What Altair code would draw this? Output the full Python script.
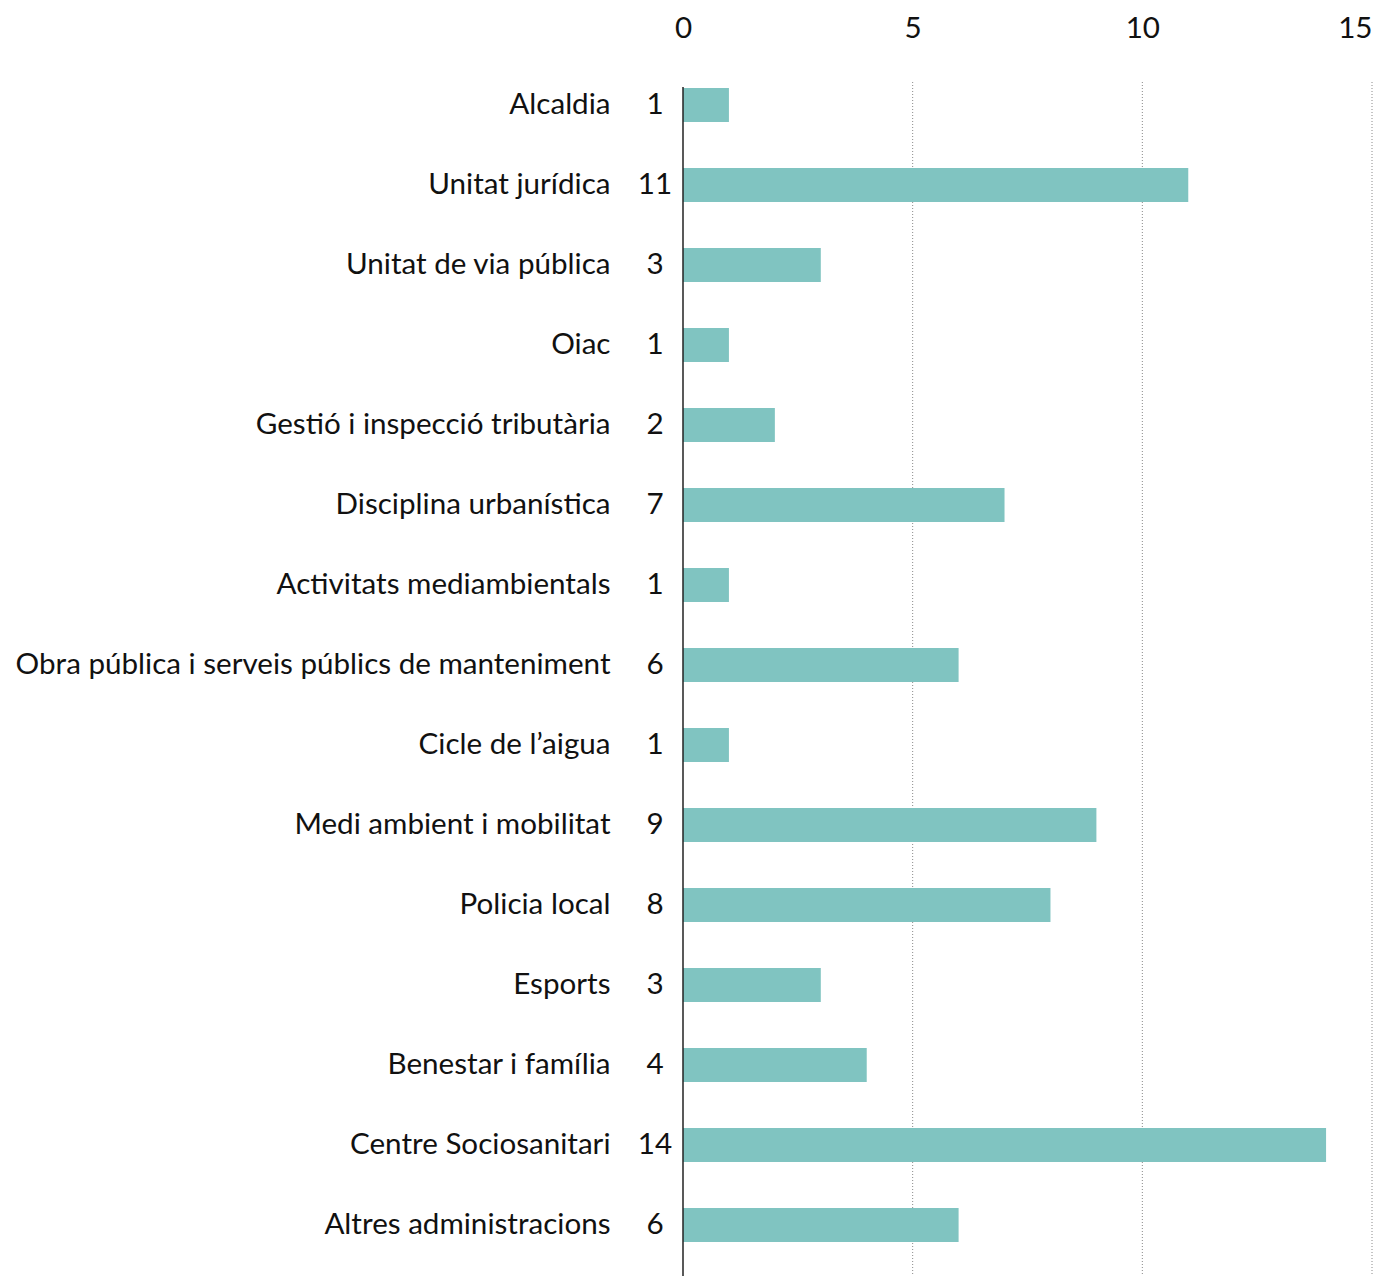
import altair as alt
import pandas as pd

categories = [
    "Alcaldia",
    "Unitat jurídica",
    "Unitat de via pública",
    "Oiac",
    "Gestió i inspecció tributària",
    "Disciplina urbanística",
    "Activitats mediambientals",
    "Obra pública i serveis públics de manteniment",
    "Cicle de l’aigua",
    "Medi ambient i mobilitat",
    "Policia local",
    "Esports",
    "Benestar i família",
    "Centre Sociosanitari",
    "Altres administracions",
]
values = [1, 11, 3, 1, 2, 7, 1, 6, 1, 9, 8, 3, 4, 14, 6]
tick_values = [0, 5, 10, 15]
grid_values = [5, 10, 15]

FONT = "Lato"
FS = 29.6

df = pd.DataFrame({"cat": categories, "val": values})
grid_df = pd.DataFrame({"g": grid_values})
zero_df = pd.DataFrame({"z": [0]})

xscale = alt.Scale(domain=[0, 15], nice=False)

grid = alt.Chart(grid_df).mark_rule(
    color="#8a8a8a", strokeDash=[1, 2], strokeWidth=1
).encode(
    x=alt.X("g:Q", scale=xscale),
    y=alt.value(17),
    y2=alt.value(1230),
)

zero = alt.Chart(zero_df).mark_rule(color="#222222", strokeWidth=1.5).encode(
    x=alt.X("z:Q", scale=xscale),
    y=alt.value(22),
    y2=alt.value(1230),
)

bars = alt.Chart(df).mark_bar(color="#80c4c1", height=34).encode(
    x=alt.X(
        "val:Q",
        scale=xscale,
        axis=alt.Axis(
            orient="top",
            values=tick_values,
            grid=False,
            domain=False,
            ticks=False,
            labelFlush=False,
            labelAlign={"condition": {"test": "datum.value == 15", "value": "right"}, "value": "center"},
            labelFont=FONT,
            labelFontSize=FS,
            labelColor="#111111",
            labelPadding=22,
            title=None,
        ),
    ),
    y=alt.Y(
        "cat:N",
        sort=None,
        axis=alt.Axis(
            ticks=False,
            domain=False,
            labelFont=FONT,
            labelFontSize=FS,
            labelColor="#111111",
            labelPadding=73,
            labelLimit=0,
            title=None,
        ),
    ),
)

labels = alt.Chart(df).mark_text(
    font=FONT, fontSize=FS, color="#111111", align="center", baseline="middle"
).encode(
    y=alt.Y("cat:N", sort=None),
    x=alt.value(-28),
    text="val:Q",
)

chart = (
    alt.layer(grid, bars, zero, labels)
    .properties(
        width=689,
        height=1200,
        padding={"left": 7, "top": 5, "right": 0, "bottom": 5},
    )
    .configure_view(stroke=None)
)

chart.save("out.html", embed_options={"renderer": "svg", "actions": False})
